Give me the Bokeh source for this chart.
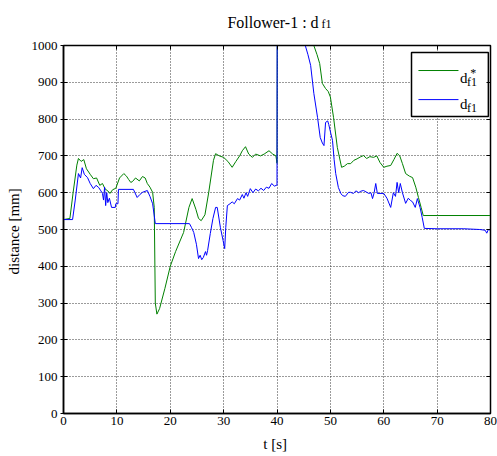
from bokeh.plotting import figure
from bokeh.models import LinearAxis, FixedTicker, Range1d, Label, ColumnDataSource
from bokeh.embed import file_html
from bokeh.resources import INLINE

# ---------------- data ----------------
t_ref = [0, 1.2, 1.8, 2.5, 2.8, 3.3, 3.8, 4.3, 5.0, 5.6, 6.2, 6.8, 7.3, 7.8, 8.3, 8.7,
         9.2, 9.8, 10.5, 11.3, 11.8, 12.2, 12.6, 12.9, 13.5, 14.2, 14.8, 15.3, 15.7,
         16.2, 16.7, 17.0, 17.2, 17.5, 18.0, 19.0, 20.0, 21.0, 22.5, 23.5, 24.1, 24.8,
         25.3, 25.8, 26.5, 27.2, 28.1, 28.5, 29.2, 30.0, 30.8, 31.6, 32.3, 33.0, 33.5,
         34.1, 34.7, 35.4, 36.0, 36.9, 37.6, 38.5, 39.2, 39.8, 40.0, 40.1, 46.5, 46.9,
         47.5, 48.0, 48.5, 49.1, 49.6, 50.0, 50.6, 51.3, 52.1, 52.6, 53.2, 53.8, 54.4,
         55.0, 55.6, 56.2, 56.8, 57.4, 58.1, 58.7, 59.3, 60.0, 60.6, 61.3, 61.9, 62.5,
         63.0, 63.5, 64.1, 64.8, 65.4, 66.0, 66.5, 67.0, 67.4, 70.0, 80.0]
d_ref = [527, 530, 600, 675, 693, 685, 690, 665, 650, 638, 640, 620, 625, 610, 605, 598,
         608, 612, 640, 652, 645, 636, 628, 630, 640, 632, 644, 640, 625,
         615, 601, 560, 300, 270, 285, 340, 400, 440, 492, 560, 584, 555,
         530, 524, 540, 600, 688, 706, 700, 696, 685, 669, 685, 700, 714,
         725, 705, 696, 705, 700, 705, 714, 705, 700, 680, 1300, 1050, 1000,
         975, 951, 897, 883, 875, 860, 804, 723, 669, 672, 679, 679, 688,
         692, 697, 701, 693, 698, 696, 700, 682, 669, 672, 674, 690, 707,
         700, 679, 652, 645, 641, 615, 587, 560, 538, 538, 538]

t_act = [0, 1.7, 2.2, 2.8, 3.2, 3.5, 3.9, 4.5, 5.0, 5.6, 6.1, 6.6, 7.0, 7.3, 7.5, 7.7,
         7.9, 8.1, 8.3, 8.6, 9.0, 9.7, 9.8, 10.2, 10.3, 13.1, 13.8, 14.3, 14.8, 15.7,
         16.2, 16.7, 17.2, 23.6, 24.0, 24.4, 24.9, 25.3, 25.6, 25.9, 26.2, 26.6, 26.8,
         27.0, 27.5, 28.0, 28.5, 28.8, 29.4, 29.9, 30.2, 30.4, 30.7, 31.2, 31.6, 32.0,
         32.6, 33.0, 33.5, 33.8, 34.2, 34.5, 35.0, 35.5, 36.0, 36.5, 37.0, 37.5, 38.0,
         38.5, 39.0, 39.5, 39.9, 40.0, 40.05, 45.0, 45.3, 45.8, 46.3, 46.9, 47.6, 48.1,
         48.5, 48.8, 49.1, 49.5, 49.7, 50.1, 50.4, 50.7, 51.0, 51.5, 52.0, 52.3, 52.8,
         53.4, 53.8, 54.3, 54.8, 55.3, 55.7, 56.2, 56.7, 57.2, 57.6, 57.9, 58.2, 58.5,
         58.8, 59.3, 60.0, 60.6, 61.3, 61.8, 62.2, 62.5, 62.8, 63.1, 63.5, 64.1, 64.6,
         65.0, 65.4, 65.9, 66.3, 66.8, 67.2, 67.6, 70.0, 75.0, 78.0, 79.0, 79.3, 79.6, 80.0]
d_act = [527, 527, 580, 652, 640, 668, 650, 641, 625, 611, 620, 614, 605, 598, 580, 615,
         565, 600, 573, 585, 560, 560, 570, 570, 609, 609, 587, 595, 601, 606,
         590, 570, 516, 516, 505, 492, 460, 421, 430, 418, 424, 440, 430,
         443, 489, 530, 560, 560, 505, 470, 448, 505, 565, 570, 575, 570,
         584, 580, 595, 585, 600, 590, 611, 600, 610, 605, 612, 606, 615,
         612, 625, 618, 620, 620, 1300, 1050, 1000, 975, 946, 870, 804, 750,
         735, 728, 791, 795, 785, 760, 742, 690, 652, 614, 597, 592, 590,
         601, 601, 598, 605, 600, 604, 606, 602, 598, 600, 584, 600, 625,
         598, 598, 598, 585, 560, 600, 590, 628, 600, 625, 600, 571, 585,
         579, 575, 560, 584, 560, 533, 503, 502, 502, 500, 498, 490, 500, 498]

x_ticks = [0, 10, 20, 30, 40, 50, 60, 70, 80]
y_ticks = [0, 100, 200, 300, 400, 500, 600, 700, 800, 900, 1000]

title_main = "Follower-1  :  d"
title_sub = "f1"
x_label = "t  [s]"
y_label = "distance  [mm]"
legend_main = ["d", "d"]
legend_sub = ["f1", "f1"]
legend_sup = "*"

GREEN = "#008000"
BLUE = "#0000ff"
FONT = "Liberation Serif"

# ---------------- figure ----------------
p = figure(width=497, height=456, output_backend="svg", toolbar_location=None,
           x_range=Range1d(0, 80), y_range=Range1d(0, 1000),
           min_border_left=63, min_border_right=7, min_border_top=45,
           min_border_bottom=43, background_fill_color="white",
           border_fill_color="white")
p.outline_line_color = "black"
p.outline_line_width = 1.5

src_ref = ColumnDataSource(dict(t=t_ref, d=d_ref))
src_act = ColumnDataSource(dict(t=t_act, d=d_act))
p.line("t", "d", source=src_ref, color=GREEN, line_width=1)
p.line("t", "d", source=src_act, color=BLUE, line_width=1)

for ax in p.xaxis:
    ax.ticker = FixedTicker(ticks=x_ticks)
    ax.axis_label = x_label
for ax in p.yaxis:
    ax.ticker = FixedTicker(ticks=y_ticks)
    ax.axis_label = y_label

for ax in p.xaxis + p.yaxis:
    ax.axis_label_text_font = FONT
    ax.axis_label_text_font_size = "15px"
    ax.axis_label_text_font_style = "normal"
    ax.axis_label_text_color = "black"
    ax.major_label_text_font = FONT
    ax.major_label_text_font_size = "13px"
    ax.major_label_text_color = "black"
    ax.axis_line_color = "black"
    ax.axis_line_width = 1.5
    ax.major_tick_line_color = "black"
    ax.minor_tick_line_color = None
    ax.major_tick_in = 4
    ax.major_label_standoff = 3
p.xaxis.major_tick_out = 0
p.yaxis.major_tick_out = 3
p.xaxis.axis_label_standoff = 8
p.yaxis.axis_label_standoff = 7

# mirrored ticks on top / right (labels not drawn)
for loc, ticks in (("above", x_ticks), ("right", y_ticks)):
    ax = LinearAxis(ticker=FixedTicker(ticks=ticks))
    ax.major_label_text_color = None
    ax.major_label_text_font_size = "0px"
    ax.major_label_standoff = 0
    ax.axis_line_color = "black"
    ax.major_tick_line_color = "black"
    ax.minor_tick_line_color = None
    ax.major_tick_in = 4
    ax.major_tick_out = 0
    p.add_layout(ax, loc)

# title: subscript row (nearer the frame) and main text row, drawn as tick labels
for pos, txt, size, standoff in ((49.27, title_sub, "12px", 15),
                                 (40.0, title_main, "16px", -17)):
    ax = LinearAxis(ticker=FixedTicker(ticks=[pos]),
                    major_label_overrides={pos: txt})
    ax.major_label_text_font = FONT
    ax.major_label_text_font_size = size
    ax.major_label_text_color = "black"
    ax.major_label_standoff = standoff
    ax.axis_line_color = None
    ax.major_tick_line_color = None
    ax.minor_tick_line_color = None
    ax.major_tick_in = 0
    ax.major_tick_out = 0
    p.add_layout(ax, "above")

p.grid.grid_line_color = "#222222"
p.grid.grid_line_dash = "1 2"
p.grid.grid_line_alpha = 0.9
p.xgrid.ticker = FixedTicker(ticks=x_ticks)
p.ygrid.ticker = FixedTicker(ticks=y_ticks)

# ---------------- legend ----------------
p.quad(left=[65.2], right=[79.6], bottom=[807], top=[981],
       fill_color="white", line_color="black", line_width=1.5)
p.multi_line(xs=[[66.5, 74.0], [66.5, 74.0]], ys=[[932, 932], [853, 853]],
             color=[GREEN, BLUE], line_width=1)
for yb, ys_, txt, sub in ((913, 902, legend_main[0], legend_sub[0]),
                          (842, 829, legend_main[1], legend_sub[1])):
    p.add_layout(Label(x=74.3, y=yb, text=txt, text_font=FONT,
                       text_font_size="15px", text_baseline="alphabetic",
                       text_color="black"))
    p.add_layout(Label(x=75.6, y=ys_, text=sub, text_font=FONT,
                       text_font_size="12px", text_baseline="alphabetic",
                       text_color="black"))
p.add_layout(Label(x=76.2, y=925, text=legend_sup, text_font=FONT,
                   text_font_size="12px", text_baseline="alphabetic",
                   text_color="black"))

open("out.html", "w").write(file_html(p, INLINE))
